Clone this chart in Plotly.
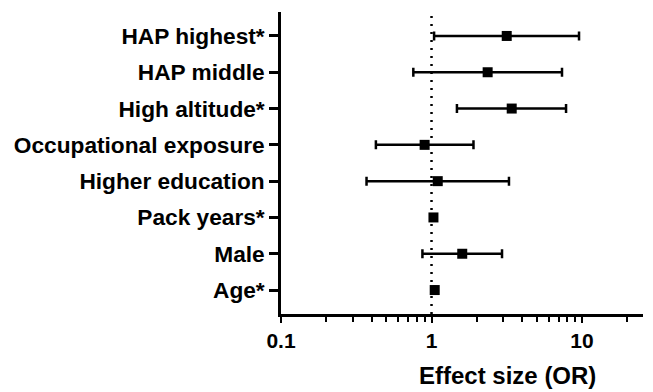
import plotly.graph_objects as go

categories = ["Age*", "Male", "Pack years*", "Higher education",
              "Occupational exposure", "High altitude*", "HAP middle", "HAP highest*"]
odds_ratio = [1.05, 1.60, 1.03, 1.10, 0.90, 3.41, 2.36, 3.16]
ci_lower = [1.04, 0.87, 1.02, 0.37, 0.427, 1.475, 0.757, 1.04]
ci_upper = [1.06, 2.94, 1.04, 3.27, 1.90, 7.83, 7.36, 9.55]
x_ticks = [0.1, 1, 10]

ypos = list(range(len(categories)))
err_plus = [u - o for u, o in zip(ci_upper, odds_ratio)]
err_minus = [o - l for o, l in zip(odds_ratio, ci_lower)]

fig = go.Figure()
fig.add_trace(go.Scatter(
    x=odds_ratio, y=ypos, mode="markers",
    marker=dict(symbol="square", size=10, color="black"),
    error_x=dict(type="data", symmetric=False, array=err_plus, arrayminus=err_minus,
                 color="black", thickness=2.5, width=4.5),
    showlegend=False, cliponaxis=False,
))

fig.add_shape(type="line", xref="x", yref="paper", x0=1, x1=1, y0=0, y1=1,
              line=dict(color="black", width=2.5, dash="2px,6px"), layer="below")

fig.add_annotation(text="Effect size (OR)", xref="paper", yref="paper",
                   x=0.627, y=-0.202, xanchor="center", yanchor="middle",
                   showarrow=False,
                   font=dict(family="Liberation Sans", size=24, color="black", weight="bold"))

fig.update_xaxes(type="log", range=[-1, 1.405], tickvals=x_ticks,
                 ticktext=[str(v) for v in x_ticks],
                 showline=True, linecolor="black", linewidth=2.5,
                 ticks="outside", ticklen=6, tickwidth=2, tickcolor="black",
                 showgrid=False, zeroline=False,
                 minor=dict(ticks="outside", ticklen=5, tickwidth=2, tickcolor="black",
                            dtick="D1", showgrid=False),
                 tickfont=dict(family="Liberation Sans", size=21, color="black", weight="bold"))
fig.update_yaxes(range=[-0.66, 7.66], tickvals=ypos, ticktext=categories,
                 showline=True, linecolor="black", linewidth=2.5,
                 ticks="outside", ticklen=9, tickwidth=2.5, tickcolor="black",
                 showgrid=False, zeroline=False,
                 tickfont=dict(family="Liberation Sans", size=22.7, color="black", weight="bold"))

fig.update_layout(width=653, height=392, margin=dict(l=281, r=10, t=12, b=78),
                  plot_bgcolor="white", paper_bgcolor="white")

fig.write_html("out.html")
